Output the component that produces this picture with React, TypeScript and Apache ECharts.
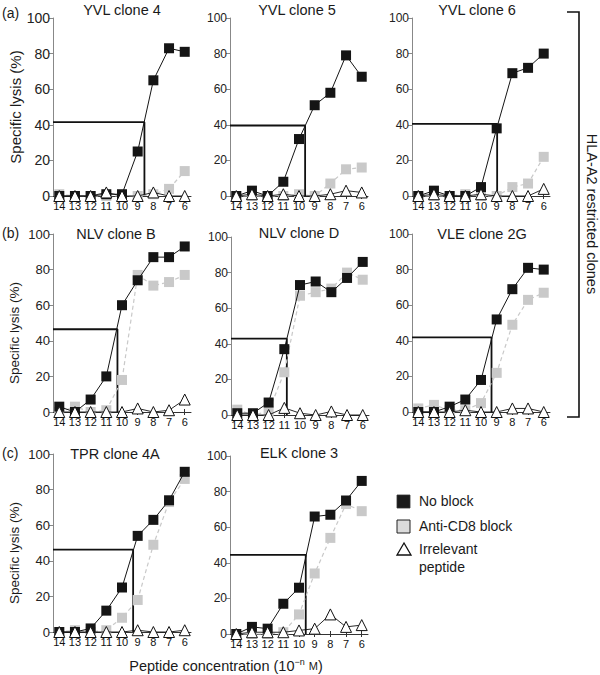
import React, { useEffect, useRef } from "react";
import * as echarts from "echarts";

// ---------- DATA ----------
const concentrations = [14, 13, 12, 11, 10, 9, 8, 7, 6];

const panelTitles = [
  "YVL clone 4",
  "YVL clone 5",
  "YVL clone 6",
  "NLV clone B",
  "NLV clone D",
  "VLE clone 2G",
  "TPR clone 4A",
  "ELK clone 3",
];

const yvl4NoBlock = [0, 0, 0, 1, 1, 25, 65, 83, 81];
const yvl4AntiCD8 = [1, 0, 0, 0, 0, 0, 1, 4, 14];
const yvl4Irrelevant = [0, 0, 0, 2, 0, 0, 2, 0, 0];

const yvl5NoBlock = [0, 3, 0, 8, 32, 51, 58, 79, 67];
const yvl5AntiCD8 = [0, 0, 0, 0, 1, 0, 7, 15, 16];
const yvl5Irrelevant = [0, 1, 0, 1, 0, 0, 1, 3, 2];

const yvl6NoBlock = [0, 3, 0, 0, 5, 38, 69, 72, 80];
const yvl6AntiCD8 = [0, 0, 0, 1, 0, 0, 5, 7, 22];
const yvl6Irrelevant = [0, 1, 0, 0, 1, 0, 0, 0, 4];

const nlvBNoBlock = [3, 0, 7, 20, 60, 74, 87, 87, 93];
const nlvBAntiCD8 = [0, 3, 0, 1, 18, 77, 71, 73, 77];
const nlvBIrrelevant = [0, 0, 0, 0, 0, 2, 0, 1, 7];

const nlvDNoBlock = [1, 1, 7, 37, 73, 75, 69, 77, 86];
const nlvDAntiCD8 = [3, 0, 2, 24, 67, 69, 71, 80, 76];
const nlvDIrrelevant = [0, 0, 0, 4, 1, 0, 2, 0, 0];

const vle2GNoBlock = [0, 0, 3, 7, 18, 52, 69, 81, 80];
const vle2GAntiCD8 = [2, 4, 1, 1, 5, 22, 49, 63, 67];
const vle2GIrrelevant = [0, 0, 0, 1, 0, 0, 2, 2, 0];

const tpr4ANoBlock = [0, 0, 2, 12, 25, 54, 63, 74, 90];
const tpr4AAntiCD8 = [0, 1, 0, 1, 8, 18, 49, 73, 86];
const tpr4AIrrelevant = [0, 0, 0, 0, 0, 1, 0, 0, 1];

const elk3NoBlock = [0, 4, 3, 17, 26, 66, 67, 75, 86];
const elk3AntiCD8 = [0, 0, 0, 1, 11, 34, 54, 73, 69];
const elk3Irrelevant = [0, 1, 1, 1, 2, 3, 11, 4, 5];

// half-maximal lysis read-off (concentration n, lysis %)
const halfMaxN = [8.57, 9.61, 8.97, 10.29, 10.84, 9.33, 9.29, 9.57];
const halfMaxLysis = [41.5, 39.6, 40.5, 46.5, 42.9, 41.9, 46.3, 44.5];

const noBlockSets = [yvl4NoBlock, yvl5NoBlock, yvl6NoBlock, nlvBNoBlock, nlvDNoBlock, vle2GNoBlock, tpr4ANoBlock, elk3NoBlock];
const antiSets = [yvl4AntiCD8, yvl5AntiCD8, yvl6AntiCD8, nlvBAntiCD8, nlvDAntiCD8, vle2GAntiCD8, tpr4AAntiCD8, elk3AntiCD8];
const irrSets = [yvl4Irrelevant, yvl5Irrelevant, yvl6Irrelevant, nlvBIrrelevant, nlvDIrrelevant, vle2GIrrelevant, tpr4AIrrelevant, elk3Irrelevant];

// ---------- LAYOUT ----------
const FONT = "'Liberation Sans', Arial, Helvetica, sans-serif";
const panelLeft = [53, 230, 412, 53, 231, 412, 53, 230];
const panelTop = [18, 18, 18, 234, 237, 234, 454, 456];
const panelW = 138;
const panelH = 178;
const titleX = [122, 297, 477, 116, 299, 482, 115, 299];
const titleY = [10, 10, 10, 234, 233, 234, 454, 453];
const yLabelSize = [14, 12, 12, 13, 12, 12, 13, 12];
const X_MIN = 5.6;
const X_MAX = 14.4;

export default function App() {
  const ref = useRef<HTMLDivElement>(null);

  useEffect(() => {
    if (!ref.current) return;
    const chart = echarts.init(ref.current, undefined, { renderer: "svg" });

    const series: any[] = [];
    panelTitles.forEach((_, i) => {
      const toPts = (arr: number[]) => concentrations.map((c, k) => [c, arr[k]]);
      series.push({
        type: "line",
        name: "Half-max",
        xAxisIndex: i,
        yAxisIndex: i,
        data: [
          [X_MAX, halfMaxLysis[i]],
          [halfMaxN[i], halfMaxLysis[i]],
          [halfMaxN[i], 0],
        ],
        symbol: "none",
        lineStyle: { color: "#111", width: 1.8 },
        z: 1,
        clip: false,
        silent: true,
      });
      series.push({
        type: "line",
        name: "Anti-CD8 block",
        xAxisIndex: i,
        yAxisIndex: i,
        data: toPts(antiSets[i]),
        symbol: "rect",
        symbolSize: 10,
        itemStyle: { color: "#c9c9c9" },
        lineStyle: { color: "#c9c9c9", width: 1.2, type: [4, 3] },
        z: 2,
        clip: false,
      });
      series.push({
        type: "line",
        name: "No block",
        xAxisIndex: i,
        yAxisIndex: i,
        data: toPts(noBlockSets[i]),
        symbol: "rect",
        symbolSize: 10,
        itemStyle: { color: "#151515" },
        lineStyle: { color: "#151515", width: 1 },
        z: 3,
        clip: false,
      });
      series.push({
        type: "line",
        name: "Irrelevant peptide",
        xAxisIndex: i,
        yAxisIndex: i,
        data: toPts(irrSets[i]),
        symbol: "triangle",
        symbolSize: 11,
        itemStyle: { color: "#fff", borderColor: "#111", borderWidth: 1 },
        lineStyle: { color: "#111", width: 0.9 },
        z: 4,
        clip: false,
      });
    });

    const graphic: any[] = [];
    panelTitles.forEach((t, i) => {
      graphic.push({
        type: "text",
        x: titleX[i],
        y: titleY[i],
        style: { text: t, fontSize: 14.5, fontFamily: FONT, fill: "#1a1a1a", align: "center", verticalAlign: "middle" },
      });
    });
    [["(a)", 13], ["(b)", 233], ["(c)", 453]].forEach(([s, y]) => {
      graphic.push({
        type: "text",
        x: 2,
        y: y as number,
        style: { text: s as string, fontSize: 14, fontFamily: FONT, fill: "#1a1a1a", align: "left", verticalAlign: "middle" },
      });
    });
    [[15, 107, 15], [14, 333, 13.5], [14, 553, 13.5]].forEach(([x, y, fs]) => {
      graphic.push({
        type: "text",
        x,
        y,
        rotation: Math.PI / 2,
        style: { text: "Specific lysis (%)", fontSize: fs, fontFamily: FONT, fill: "#1a1a1a", align: "center", verticalAlign: "middle" },
      });
    });
    // x-axis name
    graphic.push({
      type: "text",
      x: 226,
      y: 666,
      style: {
        text: "Peptide concentration (10{sup|−n} {sm|M})",
        fontSize: 14.5,
        fontFamily: FONT,
        fill: "#1a1a1a",
        align: "center",
        verticalAlign: "middle",
        rich: {
          sup: { fontSize: 9, fontFamily: FONT, fill: "#1a1a1a", verticalAlign: "top", lineHeight: 18 },
          sm: { fontSize: 11, fontFamily: FONT, fill: "#1a1a1a" },
        },
      },
    });
    // bracket
    graphic.push({
      type: "polyline",
      shape: { points: [[567, 12], [579, 12], [579, 417], [567, 417]] },
      style: { stroke: "#111", lineWidth: 1.6, fill: null },
    });
    graphic.push({
      type: "text",
      x: 592,
      y: 214,
      rotation: -Math.PI / 2,
      style: { text: "HLA-A2 restricted clones", fontSize: 14.5, fontFamily: FONT, fill: "#1a1a1a", align: "center", verticalAlign: "middle" },
    });
    // legend
    graphic.push({ type: "rect", shape: { x: 397, y: 495, width: 13, height: 13 }, style: { fill: "#1a1a1a", stroke: "#333", lineWidth: 0.8 } });
    graphic.push({ type: "text", x: 419, y: 501, style: { text: "No block", fontSize: 14, fontFamily: FONT, fill: "#1a1a1a", verticalAlign: "middle" } });
    graphic.push({ type: "rect", shape: { x: 397, y: 520, width: 13, height: 13 }, style: { fill: "#dcdcdc", stroke: "#222", lineWidth: 1 } });
    graphic.push({ type: "text", x: 419, y: 526, style: { text: "Anti-CD8 block", fontSize: 14, fontFamily: FONT, fill: "#1a1a1a", verticalAlign: "middle" } });
    graphic.push({ type: "polygon", shape: { points: [[404, 543], [397, 555], [411, 555]] }, style: { fill: "#fff", stroke: "#111", lineWidth: 1.3 } });
    graphic.push({ type: "text", x: 419, y: 549, style: { text: "Irrelevant", fontSize: 14, fontFamily: FONT, fill: "#1a1a1a", verticalAlign: "middle" } });
    graphic.push({ type: "text", x: 419, y: 567, style: { text: "peptide", fontSize: 14, fontFamily: FONT, fill: "#1a1a1a", verticalAlign: "middle" } });

    const mainX = panelTitles.map((_, i) => ({
      type: "value",
      gridIndex: i,
      min: X_MIN,
      max: X_MAX,
      inverse: true,
      splitLine: { show: false },
      axisLine: { show: true, onZero: false, lineStyle: { color: "#333", width: 1 } },
      axisTick: { show: true, customValues: concentrations, length: 3, lineStyle: { color: "#333" } },
      axisLabel: { customValues: concentrations, fontSize: 11, color: "#111", margin: 4, fontFamily: FONT },
    }));
    // inner halves of the crossing tick marks
    const innerTickX = panelTitles.map((_, i) => ({
      type: "value",
      gridIndex: i,
      position: "bottom",
      min: X_MIN,
      max: X_MAX,
      inverse: true,
      splitLine: { show: false },
      axisLine: { show: false },
      axisTick: { show: true, inside: true, customValues: concentrations, length: 3, lineStyle: { color: "#333" } },
      axisLabel: { show: false },
    }));

    const option: any = {
      animation: false,
      backgroundColor: "#fff",
      textStyle: { fontFamily: FONT },
      grid: panelTitles.map((_, i) => ({ left: panelLeft[i], top: panelTop[i], width: panelW, height: panelH })),
      xAxis: [...mainX, ...innerTickX],
      yAxis: panelTitles.map((_, i) => ({
        type: "value",
        gridIndex: i,
        min: 0,
        max: 100,
        interval: 20,
        splitLine: { show: false },
        axisLine: { show: true, lineStyle: { color: "#888", width: 1 } },
        axisTick: { show: true, length: 4, lineStyle: { color: "#888" } },
        axisLabel: { fontSize: yLabelSize[i], color: "#222", margin: 3, fontFamily: FONT },
      })),
      series,
      graphic,
    };

    chart.setOption(option);
    return () => chart.dispose();
  }, []);

  return <div ref={ref} style={{ width: 600, height: 675, position: "absolute", left: 0, top: 0 }} />;
}
